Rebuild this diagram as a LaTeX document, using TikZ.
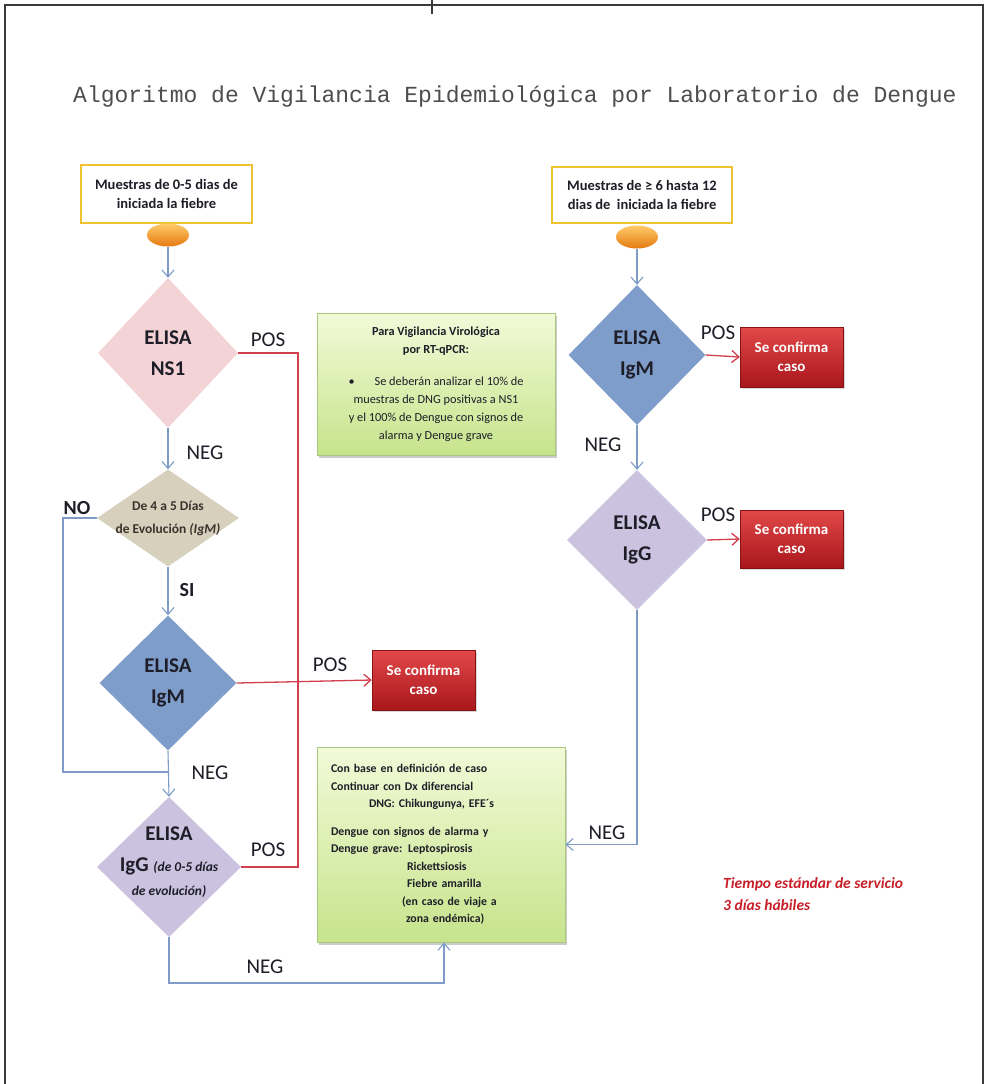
\documentclass[tikz,border=0pt]{standalone}
\usepackage{fontspec}
\setmainfont{Carlito}
\newfontfamily\titlefont{Liberation Mono}
\usetikzlibrary{shapes.geometric,arrows.meta,shadows}
\definecolor{framecol}{HTML}{3A3A3A}
\definecolor{flowcol}{HTML}{7F9CC6}
\definecolor{poscol}{HTML}{D2404E}
\definecolor{goldcol}{HTML}{F0C232}
\definecolor{ns1col}{HTML}{F3D3D5}
\definecolor{devcol}{HTML}{D6D0BC}
\definecolor{igmcol}{HTML}{7F9DCA}
\definecolor{iggcol}{HTML}{CAC2DE}
\definecolor{redtop}{HTML}{E24848}
\definecolor{redbot}{HTML}{A8161C}
\definecolor{greentop}{HTML}{F2FAD8}
\definecolor{greenbot}{HTML}{C6E48C}
\definecolor{greenedge}{HTML}{A9C77E}
\definecolor{ovaltop}{HTML}{FFCB6A}
\definecolor{ovalbot}{HTML}{E57A10}
\definecolor{titlecol}{HTML}{4D4D4D}
\definecolor{timecol}{HTML}{C81E28}
\definecolor{txtcol}{HTML}{1E1E28}
\begin{document}
\begin{tikzpicture}[x=1pt,y=-1pt,
  frameline/.style={draw=framecol,line width=1.3pt},
  startbox/.style={rectangle,draw=goldcol,line width=1.3pt,fill=white,align=center,font=\bfseries\fontsize{14.5}{19}\selectfont,text=txtcol,inner sep=0pt},
  oval/.style={ellipse,minimum width=42pt,minimum height=23pt,top color=ovaltop,bottom color=ovalbot,draw=none},
  flow/.style={draw=flowcol,line width=1.1pt,-{Straight Barb[length=7pt,width=12pt]}},
  flowline/.style={draw=flowcol,line width=1.1pt},
  posline/.style={draw=poscol,line width=1.3pt},
  posarrow/.style={posline,-{Straight Barb[length=7pt,width=12pt]}},
  dia/.style={diamond,draw=none,inner sep=0pt},
  ditext/.style={font=\bfseries\fontsize{21}{31}\selectfont,align=center,text=txtcol},
  lab/.style={font=\fontsize{21}{24}\selectfont,text=txtcol},
  blab/.style={font=\bfseries\fontsize{20}{24}\selectfont,text=txtcol},
  redbox/.style={rectangle,minimum width=103pt,minimum height=60pt,top color=redtop,bottom color=redbot,draw=redbot!80!black,text=white,align=center,font=\bfseries\fontsize{15}{19}\selectfont,drop shadow={opacity=0.3,shadow xshift=2pt,shadow yshift=-2pt}},
  greenbox/.style={rectangle,top color=greentop,bottom color=greenbot,draw=greenedge,line width=0.8pt,text=txtcol,drop shadow={opacity=0.4,shadow xshift=2pt,shadow yshift=-3pt}},
]
\useasboundingbox (0,0) rectangle (988,1084);
\fill[white] (0,0) rectangle (988,1084);
% frame
\draw[frameline] (5,1084) -- (5,5) -- (983,5) -- (983,1084);
\draw[frameline] (432,0) -- (432,14);
% title
\node[anchor=west,font=\titlefont\fontsize{23}{26}\selectfont,text=titlecol,inner sep=0pt] (title) at (73,97) {Algoritmo de Vigilancia Epidemiológica por Laboratorio de Dengue};

% left column
\node[startbox,minimum width=171pt,minimum height=58pt] (sl) at (166.5,194) {Muestras de 0-5 dias de\\iniciada la fiebre};
\node[oval] (ovl) at (168,235) {};
\node[dia,fill=ns1col,minimum width=140pt,minimum height=150pt] (ns1) at (168,353) {};
\node[ditext] (ns1t) at (ns1.center) {ELISA\\NS1};
\node[dia,fill=devcol,minimum width=142pt,minimum height=97pt] (dev) at (168,518) {};
\node[font=\bfseries\fontsize{13.5}{23}\selectfont,align=center,text=txtcol!80!brown] (devt) at (dev.center) {De 4 a 5 Días\\de Evolución \textit{(IgM)}};
\node[dia,fill=igmcol,minimum width=137pt,minimum height=135pt] (ligm) at (168,683) {};
\node[ditext] (ligmt) at (ligm.center) {ELISA\\IgM};
\node[dia,fill=iggcol,minimum width=144pt,minimum height=140pt] (ligg) at (169,867) {};
\node[ditext] (liggt) at (169,862) {ELISA\\IgG {\itshape\fontsize{13.5}{16}\selectfont (de 0-5 días}\\[-7pt]{\itshape\fontsize{13.5}{16}\selectfont de evolución)}};

\node[redbox] (rb1) at (423.5,680) {Se confirma\\caso};

% green boxes
\node[greenbox,minimum width=238pt,minimum height=142pt,align=center,font=\fontsize{12.3}{18}\selectfont] (g1) at (436,384) {\textbf{Para Vigilancia Virológica}\\\textbf{por RT-qPCR:}\\[14pt]•\hspace{20pt}Se deberán analizar el 10\% de\\muestras de DNG positivas a NS1\\y el 100\% de Dengue con signos de\\alarma y Dengue grave};
\node[greenbox,minimum width=248pt,minimum height=195pt,text width=220pt,inner xsep=14pt,align=left,font=\bfseries\fontsize{11.8}{17.5}\selectfont] (g2) at (441,844.5) {Con base en definición de caso\\Continuar con Dx diferencial\\\hspace*{38pt}DNG: Chikungunya, EFE´s\\[10pt]Dengue con signos de alarma y\\Dengue grave: Leptospirosis\\\hspace*{76pt}Rickettsiosis\\\hspace*{76pt}Fiebre amarilla\\\hspace*{71pt}(en caso de viaje a\\\hspace*{75pt}zona endémica)};

% right column
\node[startbox,minimum width=180pt,minimum height=56pt] (sr) at (642,195) {Muestras de ≥ 6 hasta 12\\dias de \ iniciada la fiebre};
\node[oval] (ovr) at (637,237) {};
\node[dia,fill=igmcol,minimum width=137pt,minimum height=140pt] (rigm) at (637,355) {};
\node[ditext] (rigmt) at (rigm.center) {ELISA\\IgM};
\node[dia,fill=iggcol,minimum width=140pt,minimum height=140pt] (rigg) at (637,540) {};
\node[ditext] (riggt) at (rigg.center) {ELISA\\IgG};
\node[redbox] (rb2) at (791.5,357) {Se confirma\\caso};
\node[redbox,minimum height=58pt] (rb3) at (791.5,539) {Se confirma\\caso};

% connectors left
\draw[flow] (ovl.south) -- (ns1.north);
\draw[flow] (ns1.south) -- (dev.north);
\draw[flow] (dev.south) -- (ligm.north);
\draw[flow] (ligm.south) -- (ligg.north);
\coordinate (no1) at (63,518);
\coordinate (no2) at (63,772);
\coordinate (no3) at (168,772);
\draw[flowline] (dev.west) -- (no1) -- (no2) -- (no3);
\coordinate (pr1) at (298,353);
\coordinate (pr2) at (298,867);
\draw[posline] (ns1.east) -- (pr1) -- (pr2) -- (ligg.east);
\draw[posarrow] (ligm.east) -- (rb1.west);
\coordinate (b1) at (169,983);
\coordinate (b2) at (444,983);
\draw[flow] (ligg.south) -- (b1) -- (b2) -- (b2 |- g2.south);

% connectors right
\draw[flow] (ovr.south) -- (rigm.north);
\draw[flow] (rigm.south) -- (rigg.north);
\draw[posarrow] (rigm.east) -- (rb2.west);
\draw[posarrow] (rigg.east) -- (rb3.west);
\draw[flow] (rigg.south) |- (g2.east);

% labels
\node[lab] (l1) at (268,340) {POS};
\node[lab] (l2) at (205,453) {NEG};
\node[blab] (l3) at (77,508) {NO};
\node[blab] (l4) at (187,590) {SI};
\node[lab] (l5) at (330,665) {POS};
\node[lab] (l6) at (210,773) {NEG};
\node[lab] (l7) at (268,850) {POS};
\node[lab] (l8) at (265,967) {NEG};
\node[lab] (l9) at (718,333) {POS};
\node[lab] (l10) at (718,515) {POS};
\node[lab] (l11) at (603,445) {NEG};
\node[lab] (l12) at (607,833) {NEG};

\node[anchor=west,font=\bfseries\itshape\fontsize{15.5}{22}\selectfont,text=timecol,align=left,inner sep=0pt] (time) at (723,894) {Tiempo estándar de servicio\\3 días hábiles};
\end{tikzpicture}
\end{document}
